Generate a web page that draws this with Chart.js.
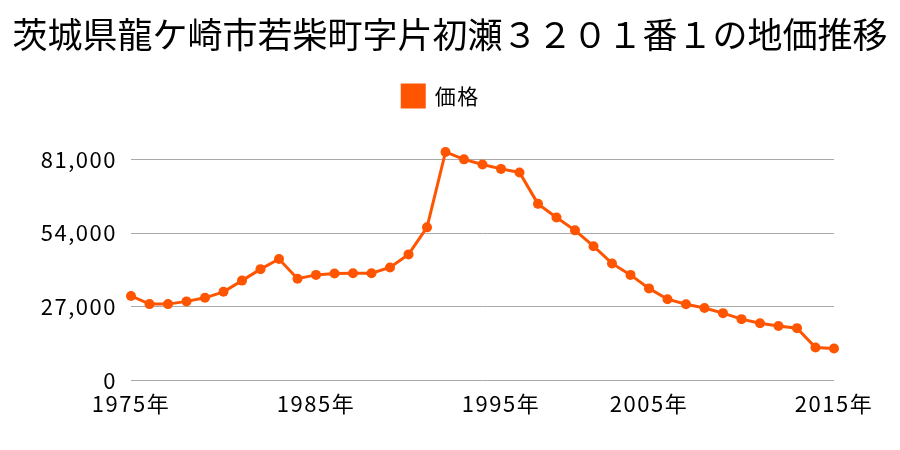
<!DOCTYPE html>
<html>
<head>
<meta charset="utf-8">
<script src="https://cdn.jsdelivr.net/npm/chart.js@4"></script>
<style>
  body { margin: 0; background: #fff; }
  #wrap { width: 900px; height: 450px; }
</style>
</head>
<body>
<div id="wrap"><canvas id="chart" width="900" height="450"></canvas></div>
<script>
// years (two years between 1995 and 2005 have no point)
let years = [1975, 1976, 1977, 1978, 1979, 1980, 1981, 1982, 1983, 1984,
    1985, 1986, 1987, 1988, 1989, 1990, 1991, 1992, 1993, 1994,
    1995, 1996, 1997, 1998, 1999, 2000, 2001, 2002,
    2005, 2006, 2007, 2008, 2009, 2010, 2011, 2012, 2013, 2014, 2015]
let prices = [31000, 28000, 28000, 29000, 30300, 32500, 36600, 40800, 44500, 37300,
    38700, 39200, 39300, 39300, 41400, 46200, 56100, 83700, 81000, 79100,
    77500, 76200, 64700, 59700, 55000, 49200, 42900, 38700,
    33750, 29800, 27950, 26600, 24700, 22500, 21000, 20000, 19200, 12100, 11750]
let shownYears = [1975, 1985, 1995, 2005, 2015]
let yTicks = [0, 27000, 54000, 81000]

let labels = years.map(y => y + "年")
let orange = "#ff5500"
let font = "'Noto Sans CJK JP', 'Noto Sans', sans-serif"

// tick labels in the reference are a little wider than Noto, add some letter spacing
let spacing = {
    id: 'spacing',
    beforeDraw(chart) {
        chart.ctx.letterSpacing = '1.5px'
        let tb = chart.titleBlock
        if (tb && !tb._plain) {
            let draw = tb.draw.bind(tb)
            tb.draw = function () {
                chart.ctx.save()
                chart.ctx.letterSpacing = '0px'
                draw()
                chart.ctx.restore()
            }
            tb._plain = true
        }
    }
}

let ctx = document.getElementById("chart").getContext("2d")
let chart = new Chart(ctx, {
    type: 'line',
    data: {
        labels: labels,
        datasets: [{
            label: "価格",
            data: prices,
            borderColor: orange,
            backgroundColor: orange,
            borderWidth: 3,
            pointRadius: 5,
            pointBackgroundColor: orange,
            pointBorderWidth: 0,
            tension: 0
        }]
    },
    options: {
        responsive: false,
        animation: false,
        layout: {
            padding: { left: 0, right: 0, top: 0, bottom: 31 }
        },
        plugins: {
            title: {
                display: true,
                text: "茨城県龍ケ崎市若柴町字片初瀬３２０１番１の地価推移",
                color: "#000",
                font: { family: font, size: 35, weight: 'normal' },
                padding: { top: 14, bottom: 19 }
            },
            legend: {
                position: 'top',
                labels: {
                    color: "#000",
                    font: { family: font, size: 21 },
                    boxWidth: 22,
                    boxHeight: 22,
                    padding: 10,
                    // reference legend sits a bit left of centre, pad the text on the right
                    generateLabels: function (chart) {
                        let items = Chart.defaults.plugins.legend.labels.generateLabels(chart)
                        items.forEach(it => { it.text = it.text + "　" })
                        return items
                    }
                }
            },
            tooltip: { enabled: false }
        },
        scales: {
            x: {
                offset: false,
                grid: { display: false },
                border: { display: false },
                afterFit: axis => {
                    axis.paddingRight = 66
                },
                ticks: {
                    autoSkip: false,
                    maxRotation: 0,
                    color: "#000",
                    padding: 2,
                    font: { family: font, size: 22 },
                    callback: function (val, i) {
                        return shownYears.includes(years[i]) ? labels[i] : ""
                    }
                }
            },
            y: {
                min: 0,
                max: 96500,
                afterBuildTicks: axis => {
                    axis.ticks = yTicks.map(v => ({ value: v }))
                },
                afterFit: axis => {
                    axis.width = 131
                },
                grid: { color: "#aaaaaa", lineWidth: 1, drawTicks: false },
                border: { display: false },
                ticks: {
                    color: "#000",
                    padding: 14,
                    font: { family: font, size: 22 },
                    callback: v => v.toLocaleString("en-US")
                }
            }
        }
    },
    plugins: [spacing]
})
</script>
</body>
</html>
